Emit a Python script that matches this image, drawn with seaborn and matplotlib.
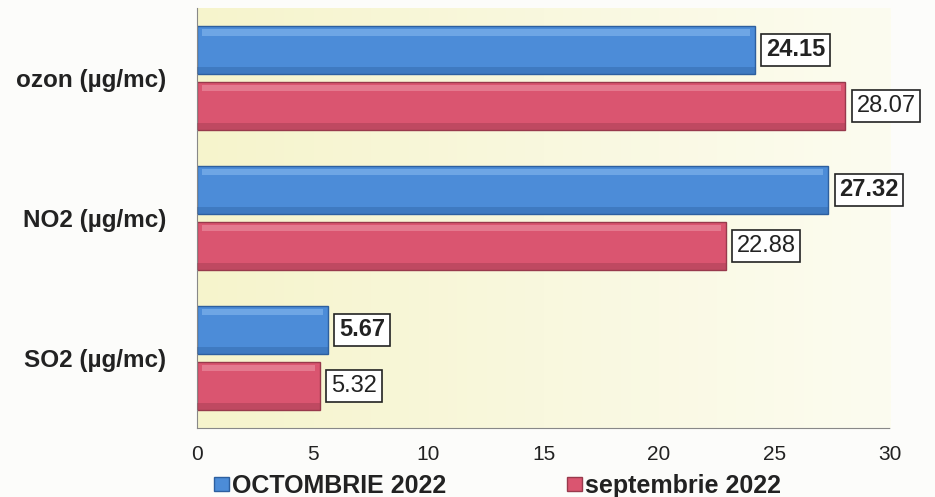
import numpy as np
import pandas as pd
import matplotlib
matplotlib.use("Agg")
import matplotlib.pyplot as plt
from matplotlib.patches import Rectangle
import seaborn as sns

# date
categories = ["ozon (µg/mc)", "NO2 (µg/mc)", "SO2 (µg/mc)"]
series = ["OCTOMBRIE 2022", "septembrie 2022"]
oct_values = [24.15, 27.32, 5.67]
sep_values = [28.07, 22.88, 5.32]
x_ticks = [0, 5, 10, 15, 20, 25, 30]

colors = {"OCTOMBRIE 2022": "#4c8cd8", "septembrie 2022": "#da5570"}
edges = {"OCTOMBRIE 2022": "#2d5f9f", "septembrie 2022": "#98394c"}
lights = {"OCTOMBRIE 2022": "#86b8ee", "septembrie 2022": "#ec94a4"}


def main():
    df = pd.DataFrame({
        "categorie": categories * 2,
        "valoare": oct_values + sep_values,
        "serie": [series[0]] * 3 + [series[1]] * 3,
    })

    sns.set_style("white")
    plt.rcParams["font.family"] = ["Liberation Sans", "DejaVu Sans"]

    fig = plt.figure(figsize=(9.35, 4.97), dpi=100, facecolor="#fcfcfa")
    ax = fig.add_axes([0.2107, 0.139, 0.7412, 0.845])

    sns.barplot(data=df, y="categorie", x="valoare", hue="serie", orient="h",
                palette=colors, saturation=1, width=0.8, gap=0.14, ax=ax, legend=False)

    # fundal cu gradient galbui
    grad = np.linspace(0, 1, 256).reshape(1, -1)
    c0 = np.array([246, 244, 204]) / 255
    c1 = np.array([252, 252, 240]) / 255
    img = c0[None, None, :] * (1 - grad[..., None]) + c1[None, None, :] * grad[..., None]
    ax.imshow(img, extent=(0, 30, 2.5, -0.5), aspect="auto", zorder=0)

    # efect 3D pe bare
    n = len(categories)
    for i, p in enumerate(ax.patches[:2 * n]):
        s = series[i // n]
        p.set_edgecolor(edges[s])
        p.set_linewidth(1.0)
        p.set_zorder(2)
        x0, y0 = p.get_x(), p.get_y()
        w, h = p.get_width(), p.get_height()
        ax.add_patch(Rectangle((x0 + 0.2, y0 + h * 0.06), w - 0.4, h * 0.14,
                               facecolor=lights[s], edgecolor="none", alpha=0.6, zorder=3))
        ax.add_patch(Rectangle((x0, y0 + h * 0.86), w, h * 0.14,
                               facecolor=edges[s], edgecolor="none", alpha=0.4, zorder=3))

    for i, cont in enumerate(ax.containers):
        ax.bar_label(cont, fmt="%.2f", padding=8, fontsize=17,
                     fontweight="bold" if i == 0 else "normal", color="#222222",
                     bbox=dict(boxstyle="square,pad=0.2", facecolor="white",
                               edgecolor="#222222", linewidth=1.2))

    ax.set_xlim(0, 30)
    ax.set_ylim(2.5, -0.5)
    ax.set_xticks(x_ticks)
    ax.set_xticklabels([str(t) for t in x_ticks], fontsize=15, color="#222222")
    ax.set_yticks(range(n))
    ax.set_yticklabels(categories, fontsize=17.5, fontweight="bold", color="#222222")
    ax.tick_params(axis="both", length=0)
    ax.tick_params(axis="x", pad=12)
    ax.tick_params(axis="y", pad=22)
    ax.set_xlabel("")
    ax.set_ylabel("")
    ax.set_facecolor("none")

    for side in ["top", "right"]:
        ax.spines[side].set_visible(False)
    ax.spines["left"].set_color("#888888")
    ax.spines["left"].set_linewidth(0.8)
    ax.spines["bottom"].set_color("#888888")
    ax.spines["bottom"].set_linestyle((0, (2, 1)))
    ax.spines["bottom"].set_linewidth(0.8)

    handles = [Rectangle((0, 0), 1, 1, facecolor=colors[s], edgecolor=edges[s]) for s in series]
    fig.legend(handles, series, loc="center", bbox_to_anchor=(0.532, 0.022), ncol=2,
               frameon=False, handlelength=0.6, handleheight=0.5, handletextpad=0.15,
               columnspacing=4.8, prop={"size": 18, "weight": "bold"}, labelcolor="#222222")

    fig.savefig("out.png", dpi=100, facecolor=fig.get_facecolor())
    plt.close(fig)


if __name__ == "__main__":
    main()
